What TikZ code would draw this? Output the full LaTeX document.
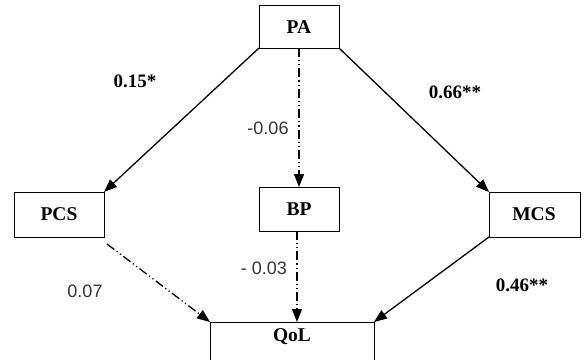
\documentclass[tikz,border=0pt]{standalone}
\usepackage{fontspec}
\setmainfont{Liberation Serif}
\newfontfamily\arialf{Liberation Sans}
\usetikzlibrary{arrows.meta}
\begin{document}
\begin{tikzpicture}[x=1pt,y=-1pt,
  box/.style={draw,line width=1pt,fill=white},
  boxtext/.style={font=\fontsize{19.5}{22}\selectfont\bfseries},
  lbold/.style={font=\fontsize{19}{22}\selectfont\bfseries},
  lplain/.style={font=\fontsize{18}{21}\selectfont\arialf, text=black!80},
  arr/.style={line width=1.3pt,-{Triangle[length=13pt,width=10pt]}},
  ddd/.style={dash pattern=on 9pt off 3pt on 1.2pt off 3pt on 1.2pt off 3pt}]
\useasboundingbox (0,0) rectangle (586,359);
% boxes
\draw[box] (259,5) rectangle (339,48);
\node[boxtext] (PA) at (299,27) {PA};
\coordinate (PAbl) at (259,48);
\coordinate (PAbr) at (339,48);
\coordinate (PAb) at (299,48);
\draw[box] (14,192) rectangle (104,237);
\node[boxtext] (PCS) at (59,214) {PCS};
\coordinate (PCStr) at (104,192);
\coordinate (PCSbr) at (107,244);
\draw[box] (259,187) rectangle (339,231);
\node[boxtext] (BP) at (299,209) {BP};
\coordinate (BPt) at (299,187);
\coordinate (BPb) at (297,231);
\draw[box] (489,192) rectangle (580,237);
\node[boxtext] (MCS) at (534,214) {MCS};
\coordinate (MCStl) at (489,192);
\coordinate (MCSbl) at (489,237);
\draw[box] (210,322) rectangle (374,370);
\node[boxtext] (QoL) at (292,337) {QoL};
\coordinate (QoLtl) at (210,322);
\coordinate (QoLt) at (297,322);
\coordinate (QoLtr) at (374,322);
% arrows
\draw[arr] (PAbl) -- (PCStr);
\draw[arr] (PAbr) -- (MCStl);
\draw[arr,ddd] (PAb) -- (BPt);
\draw[arr,ddd] (PCSbr) -- (QoLtl);
\draw[arr,ddd] (BPb) -- (QoLt);
\draw[arr] (MCSbl) -- (QoLtr);
% labels
\node[lbold] (l1) at (135,81) {0.15*};
\node[lbold] (l2) at (455,92) {0.66**};
\node[lplain] (l3) at (268,128) {-0.06};
\node[lplain] (l4) at (85,291) {0.07};
\node[lplain] (l5) at (264,268) {- 0.03};
\node[lbold] (l6) at (522,285) {0.46**};
\end{tikzpicture}
\end{document}
